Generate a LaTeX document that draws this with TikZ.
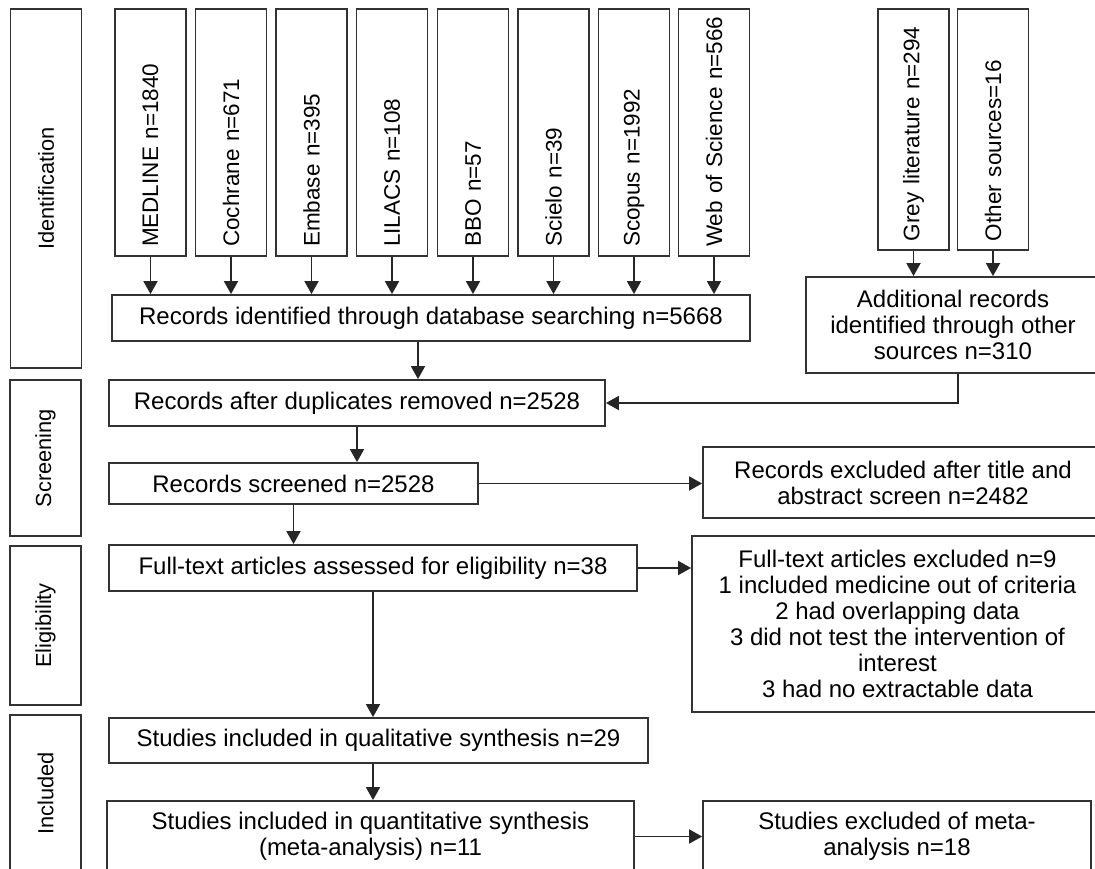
\documentclass[tikz,border=0pt]{standalone}
\usepackage{fontspec}
\setmainfont{Liberation Sans}
\usetikzlibrary{arrows.meta}

\begin{document}
\begin{tikzpicture}[x=1pt, y=-1pt,
		box_style/.style={rectangle,draw=black!80,line width=1.8pt,align=center,inner sep=0pt,font=\fontsize{24}{26}\selectfont},
		side_style/.style={rectangle,draw=black!80,line width=1.8pt,rotate=90,minimum height=71pt,font=\fontsize{21.8}{24}\selectfont},
		src_style/.style={rectangle,draw=black!80,line width=1.8pt,rotate=90,minimum height=71pt,align=left,inner ysep=0pt,font=\fontsize{22.5}{24}\selectfont},
		edge_style/.style={draw=black!85,line width=1.8pt,-{Triangle[length=13pt,width=14pt]}}]

		\useasboundingbox (0,0) rectangle (1095,869);
		\clip (0,0) rectangle (1095,869);

		% phases
		\node[side_style, minimum width=359pt] (ident) at (46,188.5) {Identification};
		\node[side_style, minimum width=156pt] (screen) at (45.5,458) {Screening};
		\node[side_style, minimum width=159pt] (elig) at (45.5,625.5) {Eligibility};
		\node[side_style, minimum width=157pt] (incl) at (45.5,793.5) {Included};

		% sources
		\node[src_style, text width=229pt, inner xsep=9pt] (medline) at (150.5,132.5) {\mbox{MEDLINE n=1840}};
		\node[src_style, text width=229pt, inner xsep=9pt] (cochrane) at (231,132.5) {\mbox{Cochrane n=671}};
		\node[src_style, text width=229pt, inner xsep=9pt] (embase) at (311.5,132.5) {\mbox{Embase n=395}};
		\node[src_style, text width=229pt, inner xsep=9pt] (lilacs) at (392,132.5) {\mbox{LILACS n=108}};
		\node[src_style, text width=229pt, inner xsep=9pt] (bbo) at (473,132.5) {\mbox{BBO n=57}};
		\node[src_style, text width=229pt, inner xsep=9pt] (scielo) at (553.5,132.5) {\mbox{Scielo n=39}};
		\node[src_style, text width=229pt, inner xsep=9pt] (scopus) at (634,132.5) {\mbox{Scopus n=1992}};
		\node[src_style, text width=229pt, inner xsep=9pt] (wos) at (714,132.5) {\mbox{Web of Science n=566}};
		\node[src_style, text width=223pt, inner xsep=9pt] (grey) at (913.5,129.5) {\mbox{Grey literature n=294}};
		\node[src_style, text width=223pt, inner xsep=9pt] (other) at (993,129.5) {\mbox{Other sources=16}};

		% flow
		\node[box_style, minimum width=638pt, minimum height=46pt] (recid) at (431,318) {Records identified through database searching n=5668};
		\node[box_style, minimum width=294pt, minimum height=96pt] (addl) at (953,325) {Additional records\\identified through other\\sources n=310};
		\node[box_style, minimum width=496pt, minimum height=46pt] (recafter) at (357,403) {Records after duplicates removed n=2528};
		\node[box_style, minimum width=369pt, minimum height=41pt] (recscr) at (293.5,483.5) {Records screened n=2528};
		\node[box_style, minimum width=400pt, minimum height=71pt] (recexcl) at (903,482.5) {Records excluded after title and\\abstract screen n=2482};
		\node[box_style, minimum width=528pt, minimum height=46pt] (fulltext) at (373,568) {Full-text articles assessed for eligibility n=38};
		\node[box_style, minimum width=411pt, minimum height=176pt] (ftexcl) at (897.5,624) {Full-text articles excluded n=9\\1 included medicine out of criteria\\2 had overlapping data\\3 did not test the intervention of\\interest\\3 had no extractable data};
		\node[box_style, minimum width=539pt, minimum height=45pt] (qual) at (378.5,740.5) {Studies included in qualitative synthesis n=29};
		\node[box_style, minimum width=527pt, minimum height=71pt] (quant) at (370.5,836.5) {Studies included in quantitative synthesis\\(meta-analysis) n=11};
		\node[box_style, minimum width=388pt, minimum height=71pt] (studexcl) at (897,836.5) {Studies excluded of meta-\\analysis n=18};

		\foreach \src in {medline,cochrane,embase,lilacs,bbo,scielo,scopus,wos}
			\draw[edge_style] (\src.west) -- (\src.west |- recid.north);
		\draw[edge_style] (grey.west) -- (grey.west |- addl.north);
		\draw[edge_style] (other.west) -- (other.west |- addl.north);
		\draw[edge_style] ([xshift=-13pt]recid.south) -- ([xshift=-13pt]recid.south |- recafter.north);
		\draw[edge_style] ([xshift=5pt]addl.south) |- (recafter.east);
		\draw[edge_style] (recafter.south) -- (recafter.south |- recscr.north);
		\draw[edge_style] (recscr.east) -- (recscr.east -| recexcl.west);
		\draw[edge_style] (recscr.south) -- (recscr.south |- fulltext.north);
		\draw[edge_style] (fulltext.east) -- (fulltext.east -| ftexcl.west);
		\draw[edge_style] (fulltext.south) -- (fulltext.south |- qual.north);
		\draw[edge_style] (qual.south -| fulltext.south) -- (quant.north -| fulltext.south);
		\draw[edge_style] (quant.east) -- (quant.east -| studexcl.west);
\end{tikzpicture}
\end{document}
